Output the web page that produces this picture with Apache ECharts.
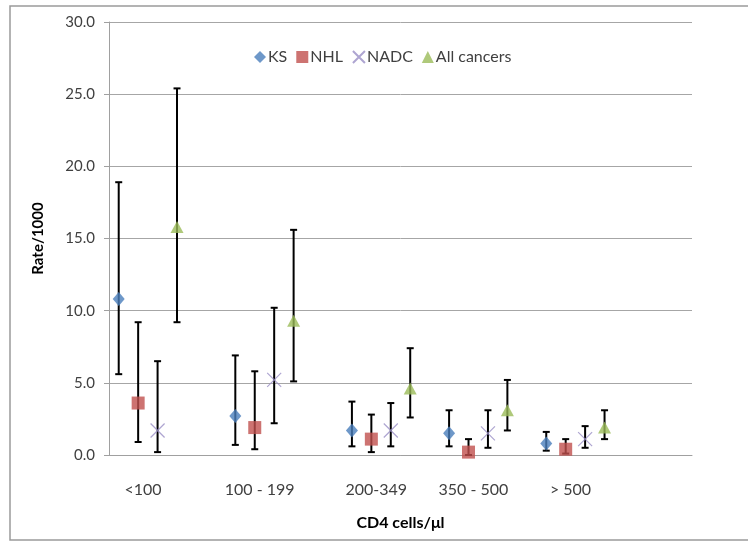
<!DOCTYPE html>
<html lang="en">
<head>
    <meta charset="UTF-8">
    <title>Cancer rate by CD4</title>
    <style>
        body{ margin:0; background:#fff; }
        #chart{ width:748px; height:541px; }
    </style>
</head>
<body>
    <div id="chart"></div>
    <script src="https://cdn.jsdelivr.net/npm/echarts@6/dist/echarts.min.js"></script>
    <script>
        // groups on the x axis (value axis, positions as in the original scatter)
        var groups = ['<100', '100 - 199', '200-349', '350 - 500', '> 500'];
        var groupX = [0.1, 1.3, 2.5, 3.5, 4.5];
        var labelX = [0.35, 1.55, 2.75, 3.75, 4.75];
        var offsets = [0, 0.2, 0.4, 0.6];

        var names = ['KS', 'NHL', 'NADC', 'All cancers'];
        var ks = [10.8, 2.7, 1.7, 1.5, 0.8];
        var ksLow = [5.6, 0.7, 0.6, 0.6, 0.3];
        var ksHigh = [18.9, 6.9, 3.7, 3.1, 1.6];
        var nhl = [3.6, 1.9, 1.1, 0.2, 0.4];
        var nhlLow = [0.9, 0.4, 0.2, 0.0, 0.1];
        var nhlHigh = [9.2, 5.8, 2.8, 1.1, 1.1];
        var nadc = [1.7, 5.2, 1.7, 1.5, 1.1];
        var nadcLow = [0.2, 2.2, 0.6, 0.5, 0.5];
        var nadcHigh = [6.5, 10.2, 3.6, 3.1, 2.0];
        var all = [15.8, 9.3, 4.6, 3.1, 1.9];
        var allLow = [9.2, 5.1, 2.6, 1.7, 1.1];
        var allHigh = [25.4, 15.6, 7.4, 5.2, 3.1];

        var values = [ks, nhl, nadc, all];
        var lows = [ksLow, nhlLow, nadcLow, allLow];
        var highs = [ksHigh, nhlHigh, nadcHigh, allHigh];

        var font = 'Lato, "Open Sans", sans-serif';
        var styles = [
            { symbol: 'diamond', size: [12, 14], item: { color: '#4a7ebb' } },
            { symbol: 'rect', size: [13, 13], item: { color: '#c0504d' } },
            { symbol: 'path://M0,0L10,10M10,0L0,10', size: [14, 14], item: { color: 'rgba(0,0,0,0)', borderColor: '#9a8fc6', borderWidth: 1.2 } },
            { symbol: 'triangle', size: [13, 12], item: { color: '#9bbb59' } }
        ];

        var myChart = echarts.init(document.getElementById('chart'));

        var errData = [];
        var scatterSeries = [];
        for (var s = 0; s < 4; s++) {
            var pts = [];
            for (var g = 0; g < groups.length; g++) {
                var x = groupX[g] + offsets[s];
                pts.push([x, values[s][g]]);
                errData.push([x, lows[s][g], highs[s][g]]);
            }
            scatterSeries.push({
                name: names[s],
                type: 'scatter',
                symbol: styles[s].symbol,
                symbolSize: styles[s].size,
                itemStyle: styles[s].item,
                z: 5,
                data: pts
            });
        }

        // black error bars with short caps, drawn under the markers
        var errorSeries = {
            type: 'custom',
            z: 2,
            silent: true,
            data: errData,
            renderItem: function (params, api) {
                var lo = api.coord([api.value(0), api.value(1)]);
                var hi = api.coord([api.value(0), api.value(2)]);
                var w = 3.5;
                var st = { stroke: '#000', lineWidth: 2 };
                return {
                    type: 'group',
                    children: [
                        { type: 'line', shape: { x1: lo[0], y1: lo[1], x2: hi[0], y2: hi[1] }, style: st },
                        { type: 'line', shape: { x1: lo[0] - w, y1: lo[1], x2: lo[0] + w, y2: lo[1] }, style: st },
                        { type: 'line', shape: { x1: hi[0] - w, y1: hi[1], x2: hi[0] + w, y2: hi[1] }, style: st }
                    ]
                };
            }
        };

        var option = {
            backgroundColor: '#fff',
            animation: false,
            textStyle: { fontFamily: font },
            graphic: [{
                type: 'rect',
                shape: { x: 10, y: 6, width: 745, height: 534 },
                style: { fill: 'none', stroke: '#9a9a9a', lineWidth: 1.5 },
                silent: true
            }],
            legend: {
                data: names,
                left: 249,
                top: 44,
                itemWidth: 12,
                itemHeight: 12,
                itemGap: 9,
                textStyle: { color: '#404040', fontSize: 16, fontFamily: font, padding: [0, 0, 0, -3] }
            },
            grid: { left: 109, right: 56, top: 22, bottom: 86 },
            xAxis: {
                type: 'value',
                min: 0,
                max: 6,
                name: 'CD4 cells/\u03bcl',
                nameLocation: 'middle',
                nameGap: 60,
                nameTextStyle: { color: '#000', fontWeight: 'bold', fontSize: 16, fontFamily: font },
                splitLine: { show: false },
                axisTick: { show: false },
                axisLine: { lineStyle: { color: '#a0a0a0', width: 1 } },
                axisLabel: {
                    customValues: labelX,
                    color: '#404040',
                    fontSize: 16,
                    margin: 27,
                    formatter: function (v) {
                        for (var i = 0; i < labelX.length; i++) {
                            if (Math.abs(labelX[i] - v) < 1e-6) return groups[i];
                        }
                        return '';
                    }
                }
            },
            yAxis: {
                type: 'value',
                min: 0,
                max: 30,
                interval: 5,
                name: 'Rate/1000',
                nameLocation: 'middle',
                nameGap: 63,
                nameTextStyle: { color: '#000', fontWeight: 'bold', fontSize: 15, fontFamily: font },
                axisLine: { show: true, lineStyle: { color: '#a0a0a0' } },
                axisTick: { show: true, length: 5, lineStyle: { color: '#a0a0a0' } },
                splitLine: { lineStyle: { color: '#a6a6a6', width: 1 } },
                axisLabel: {
                    color: '#404040',
                    fontSize: 15,
                    margin: 14,
                    formatter: function (v) { return v.toFixed(1); }
                }
            },
            series: [errorSeries].concat(scatterSeries)
        };
        myChart.setOption(option);
    </script>
</body>
</html>
